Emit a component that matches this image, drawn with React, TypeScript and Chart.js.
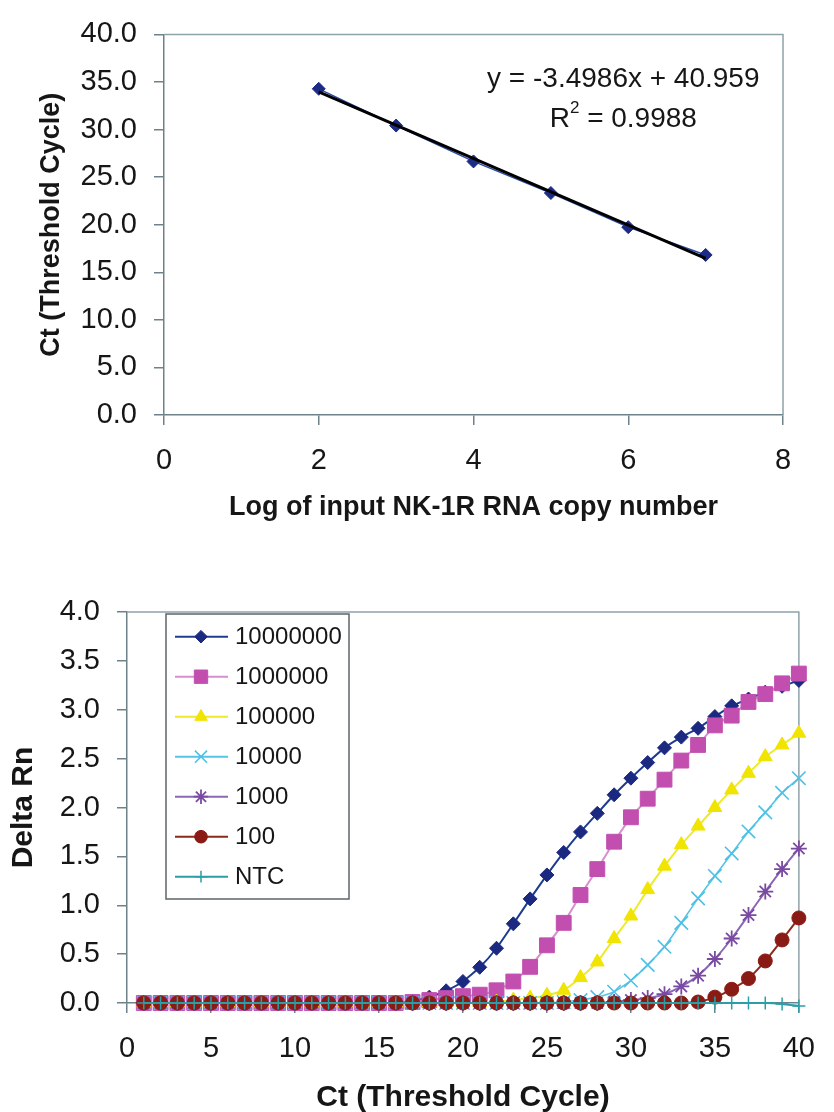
import React, { useEffect, useRef } from 'react';
import { Chart, registerables } from 'chart.js';

Chart.register(...registerables);

const FONT = '"Liberation Sans", Arial, Helvetica, sans-serif';
const TEXT = '#161616';
const AXIS = '#6f8189';
const FRAME = '#8ea2a9';

// ---------- Top chart: standard curve ----------
const logCopies = [2, 3, 4, 5, 6, 7];
const ctValues = [34.28, 30.42, 26.65, 23.33, 19.74, 16.82];
const trendSlope = -3.4986;
const trendIntercept = 40.959;
const rSquaredText = '0.9988';
const topXTicks = [0, 2, 4, 6, 8];
const topYTicks = [0, 5, 10, 15, 20, 25, 30, 35, 40];

// ---------- Bottom chart: amplification plot ----------
const cycles = [
  1, 2, 3, 4, 5, 6, 7, 8, 9, 10, 11, 12, 13, 14, 15, 16, 17, 18, 19, 20,
  21, 22, 23, 24, 25, 26, 27, 28, 29, 30, 31, 32, 33, 34, 35, 36, 37, 38, 39, 40,
];
const seriesLabels = ['10000000', '1000000', '100000', '10000', '1000', '100', 'NTC'];
const s10000000 = [
  0, 0, 0, 0, 0, 0, 0, 0, 0, 0, 0, 0, 0, 0, 0, 0,
  0.02, 0.06, 0.125, 0.22, 0.365, 0.56, 0.81, 1.065, 1.31, 1.54, 1.75, 1.94,
  2.13, 2.3, 2.46, 2.61, 2.72, 2.81, 2.93, 3.04, 3.11, 3.18, 3.24, 3.3,
];
const s1000000 = [
  0, 0, 0, 0, 0, 0, 0, 0, 0, 0, 0, 0, 0, 0, 0, 0,
  0.01, 0.03, 0.05, 0.07, 0.085, 0.13, 0.22, 0.37, 0.59, 0.82, 1.105, 1.37,
  1.65, 1.9, 2.09, 2.285, 2.48, 2.64, 2.84, 2.94, 3.08, 3.16, 3.27, 3.37,
];
const s100000 = [
  0, 0, 0, 0, 0, 0, 0, 0, 0, 0, 0, 0, 0, 0, 0, 0, 0, 0, 0, 0, 0,
  0.01, 0.03, 0.05, 0.08, 0.13, 0.26, 0.42, 0.66, 0.89, 1.16, 1.4, 1.62,
  1.81, 2.0, 2.18, 2.35, 2.52, 2.64, 2.76,
];
const s10000 = [
  0, 0, 0, 0, 0, 0, 0, 0, 0, 0, 0, 0, 0, 0, 0, 0, 0, 0, 0, 0, 0, 0, 0, 0, 0,
  0.01, 0.03, 0.06, 0.115, 0.23, 0.39, 0.575, 0.82, 1.07, 1.3, 1.53, 1.755,
  1.95, 2.15, 2.3,
];
const s1000 = [
  0, 0, 0, 0, 0, 0, 0, 0, 0, 0, 0, 0, 0, 0, 0, 0, 0, 0, 0, 0, 0, 0, 0, 0, 0, 0, 0, 0,
  0.01, 0.03, 0.05, 0.09, 0.17, 0.28, 0.45, 0.66, 0.9, 1.14, 1.37, 1.58,
];
const s100 = [
  0, 0, 0, 0, 0, 0, 0, 0, 0, 0, 0, 0, 0, 0, 0, 0, 0, 0, 0, 0, 0, 0, 0, 0, 0, 0, 0, 0, 0, 0, 0, 0, 0,
  0.01, 0.06, 0.14, 0.25, 0.43, 0.645, 0.87,
];
const sNTC = [
  0, 0, 0, 0, 0, 0, 0, 0, 0, 0, 0, 0, 0, 0, 0, 0, 0, 0, 0, 0,
  0, 0, 0, 0, 0, 0, 0, 0, 0, 0, 0, 0, 0, 0, 0, 0, 0, 0, -0.01, -0.03,
];
const seriesValues = [s10000000, s1000000, s100000, s10000, s1000, s100, sNTC];
const bottomXTicks = [0, 5, 10, 15, 20, 25, 30, 35, 40];
const bottomYTicks = [0, 0.5, 1, 1.5, 2, 2.5, 3, 3.5, 4];

type Style = {
  line: string;
  fill: string;
  stroke: string;
  point: string;
  radius: number;
  pointWidth: number;
  lineWidth: number;
};

const seriesStyles: Style[] = [
  { line: '#1d3c8f', fill: '#1b2a80', stroke: '#1b2a80', point: 'rectRot', radius: 7, pointWidth: 1, lineWidth: 2 },
  { line: '#d68fcc', fill: '#c24fb0', stroke: '#c24fb0', point: 'rect', radius: 10.5, pointWidth: 1, lineWidth: 2 },
  { line: '#eeea2a', fill: '#f0e400', stroke: '#f0e400', point: 'triangle', radius: 8, pointWidth: 1, lineWidth: 2 },
  { line: '#56c4e6', fill: '#56c4e6', stroke: '#4dc0e6', point: 'crossRot', radius: 9.5, pointWidth: 1.6, lineWidth: 1.6 },
  { line: '#8a68b6', fill: '#7a4aa2', stroke: '#7a4aa2', point: 'star', radius: 8, pointWidth: 1.8, lineWidth: 2 },
  { line: '#8a2a1c', fill: '#8a1a14', stroke: '#8a1a14', point: 'circle', radius: 7, pointWidth: 1, lineWidth: 2 },
  { line: '#2a9fa6', fill: '#2a9fa6', stroke: '#2a9fa6', point: 'cross', radius: 6.5, pointWidth: 1.5, lineWidth: 2 },
];

function drawMarker(ctx: CanvasRenderingContext2D, st: Style, x: number, y: number, scale: number) {
  const r = st.radius * scale;
  ctx.save();
  ctx.beginPath();
  ctx.fillStyle = st.fill;
  ctx.strokeStyle = st.stroke;
  ctx.lineWidth = st.pointWidth;
  const q = Math.SQRT1_2 * r;
  switch (st.point) {
    case 'rectRot':
      ctx.moveTo(x, y - r);
      ctx.lineTo(x + r, y);
      ctx.lineTo(x, y + r);
      ctx.lineTo(x - r, y);
      ctx.closePath();
      ctx.fill();
      ctx.stroke();
      break;
    case 'rect':
      ctx.rect(x - q, y - q, 2 * q, 2 * q);
      ctx.fill();
      ctx.stroke();
      break;
    case 'triangle': {
      let a = 0;
      ctx.moveTo(x + Math.sin(a) * r, y - Math.cos(a) * r);
      a += (2 * Math.PI) / 3;
      ctx.lineTo(x + Math.sin(a) * r, y - Math.cos(a) * r);
      a += (2 * Math.PI) / 3;
      ctx.lineTo(x + Math.sin(a) * r, y - Math.cos(a) * r);
      ctx.closePath();
      ctx.fill();
      ctx.stroke();
      break;
    }
    case 'circle':
      ctx.arc(x, y, r, 0, Math.PI * 2);
      ctx.fill();
      ctx.stroke();
      break;
    case 'crossRot':
      ctx.moveTo(x - q, y - q);
      ctx.lineTo(x + q, y + q);
      ctx.moveTo(x - q, y + q);
      ctx.lineTo(x + q, y - q);
      ctx.stroke();
      break;
    case 'star':
      ctx.moveTo(x - q, y - q);
      ctx.lineTo(x + q, y + q);
      ctx.moveTo(x - q, y + q);
      ctx.lineTo(x + q, y - q);
      ctx.moveTo(x - r, y);
      ctx.lineTo(x + r, y);
      ctx.moveTo(x, y - r);
      ctx.lineTo(x, y + r);
      ctx.stroke();
      break;
    case 'cross':
      ctx.moveTo(x - r, y);
      ctx.lineTo(x + r, y);
      ctx.moveTo(x, y - r);
      ctx.lineTo(x, y + r);
      ctx.stroke();
      break;
  }
  ctx.restore();
}

const framePlugin = {
  id: 'frame',
  beforeDatasetsDraw(chart: any) {
    const { ctx, chartArea: a } = chart;
    ctx.save();
    ctx.strokeStyle = FRAME;
    ctx.lineWidth = 1.5;
    ctx.beginPath();
    ctx.moveTo(a.left, a.top);
    ctx.lineTo(a.right, a.top);
    ctx.lineTo(a.right, a.bottom);
    ctx.stroke();
    ctx.restore();
  },
};

const equationPlugin = {
  id: 'equation',
  afterDraw(chart: any) {
    const { ctx, chartArea: a } = chart;
    const cx = a.left + (a.right - a.left) * 0.742;
    const y1 = a.top + (a.bottom - a.top) * 0.118;
    const y2 = a.top + (a.bottom - a.top) * 0.222;
    const sign = trendSlope < 0 ? '-' : '';
    const line1 = `y = ${sign}${Math.abs(trendSlope)}x + ${trendIntercept}`;
    ctx.save();
    ctx.fillStyle = TEXT;
    ctx.textBaseline = 'middle';
    ctx.font = `28px ${FONT}`;
    ctx.textAlign = 'center';
    ctx.fillText(line1, cx, y1);
    const rPart = 'R';
    const rest = ` = ${rSquaredText}`;
    const wR = ctx.measureText(rPart).width;
    const wRest = ctx.measureText(rest).width;
    ctx.font = `17px ${FONT}`;
    const wSup = ctx.measureText('2').width;
    const total = wR + wSup + wRest;
    let x = cx - total / 2;
    ctx.textAlign = 'left';
    ctx.font = `28px ${FONT}`;
    ctx.fillText(rPart, x, y2);
    x += wR;
    ctx.font = `17px ${FONT}`;
    ctx.fillText('2', x, y2 - 11);
    x += wSup;
    ctx.font = `28px ${FONT}`;
    ctx.fillText(rest, x, y2);
    ctx.restore();
  },
};

const legendPlugin = {
  id: 'boxLegend',
  afterDraw(chart: any) {
    const { ctx, chartArea: a } = chart;
    const left = a.left + 39;
    const top = a.top + 2;
    const width = 183;
    const rowH = 40;
    const height = 285;
    ctx.save();
    ctx.fillStyle = '#ffffff';
    ctx.fillRect(left, top, width, height);
    ctx.strokeStyle = '#5e6468';
    ctx.lineWidth = 1.5;
    ctx.strokeRect(left, top, width, height);
    ctx.font = `24px ${FONT}`;
    ctx.textBaseline = 'middle';
    ctx.textAlign = 'left';
    seriesLabels.forEach((label, i) => {
      const st = seriesStyles[i];
      const y = top + 22.7 + i * rowH;
      ctx.strokeStyle = st.line;
      ctx.lineWidth = 2;
      ctx.beginPath();
      ctx.moveTo(left + 9, y);
      ctx.lineTo(left + 62, y);
      ctx.stroke();
      drawMarker(ctx, st, left + 35, y, 0.9);
      ctx.fillStyle = TEXT;
      ctx.fillText(label, left + 69, y + 1);
    });
    ctx.restore();
  },
};

function axisCommon(size: number, pad: number) {
  return {
    grid: {
      display: true,
      drawOnChartArea: false,
      drawTicks: true,
      tickLength: 10,
      color: AXIS,
      lineWidth: 1.5,
    },
    border: { display: true, color: AXIS, width: 1.5 },
    ticks: {
      font: { family: FONT, size },
      color: TEXT,
      padding: pad,
      maxRotation: 0,
      autoSkip: false,
    },
  };
}

function TopChart() {
  const ref = useRef<HTMLCanvasElement | null>(null);
  useEffect(() => {
    if (!ref.current) return;
    const ctData = logCopies.map((x, i) => ({ x, y: ctValues[i] }));
    const trendX = [logCopies[0], logCopies[logCopies.length - 1]];
    const trendData = trendX.map((x) => ({ x, y: trendSlope * x + trendIntercept }));
    const xc = axisCommon(29, 19);
    const yc = axisCommon(29, 17);
    const chart = new Chart(ref.current, {
      type: 'line',
      data: {
        datasets: [
          {
            label: 'Linear trend',
            data: trendData,
            borderColor: '#000000',
            borderWidth: 3,
            pointRadius: 0,
            order: 0,
            clip: false,
          } as any,
          {
            label: 'Ct',
            data: ctData,
            borderColor: '#2b4aa8',
            borderWidth: 1.5,
            pointStyle: 'rectRot',
            pointRadius: 6.5,
            pointBackgroundColor: '#1c2c86',
            pointBorderColor: '#1c2c86',
            pointBorderWidth: 1,
            order: 1,
            clip: false,
          } as any,
        ],
      },
      options: {
        responsive: false,
        animation: false,
        events: [],
        layout: { padding: { left: 0, top: 26, right: 51, bottom: 0 } },
        plugins: { legend: { display: false }, tooltip: { enabled: false } },
        scales: {
          x: {
            type: 'linear',
            min: 0,
            max: 8,
            ...xc,
            afterBuildTicks: (s: any) => {
              s.ticks = topXTicks.map((v) => ({ value: v }));
            },
            ticks: { ...xc.ticks, callback: (v: any) => String(v) },
            title: {
              display: true,
              text: 'Log of input NK-1R RNA copy number',
              font: { family: FONT, size: 27, weight: 'bold' },
              color: TEXT,
              padding: { top: 0, bottom: 36 },
            },
            afterFit: (s: any) => {
              s.height = 145;
            },
          },
          y: {
            type: 'linear',
            min: 0,
            max: 40,
            ...yc,
            afterBuildTicks: (s: any) => {
              s.ticks = topYTicks.map((v) => ({ value: v }));
            },
            ticks: { ...yc.ticks, callback: (v: any) => Number(v).toFixed(1) },
            title: {
              display: true,
              text: 'Ct (Threshold Cycle)',
              font: { family: FONT, size: 27, weight: 'bold' },
              color: TEXT,
              padding: { top: 35, bottom: 0 },
            },
            afterFit: (s: any) => {
              s.width = 164;
            },
          },
        },
      } as any,
      plugins: [framePlugin, equationPlugin],
    });
    return () => chart.destroy();
  }, []);
  return (
    <canvas
      ref={ref}
      width={834}
      height={560}
      style={{ position: 'absolute', left: 0, top: 0, width: 834, height: 560 }}
    />
  );
}

function BottomChart() {
  const ref = useRef<HTMLCanvasElement | null>(null);
  useEffect(() => {
    if (!ref.current) return;
    const n = seriesLabels.length;
    const datasets = seriesLabels.map((label, i) => {
      const st = seriesStyles[i];
      return {
        label,
        data: cycles.map((c, j) => ({ x: c, y: seriesValues[i][j] })),
        borderColor: st.line,
        borderWidth: st.lineWidth,
        pointStyle: st.point,
        pointRadius: st.radius,
        pointBackgroundColor: st.fill,
        pointBorderColor: st.stroke,
        pointBorderWidth: st.pointWidth,
        tension: 0.15,
        order: n - 1 - i,
        clip: false,
      } as any;
    });
    const xc = axisCommon(29, 19);
    const yc = axisCommon(29, 17);
    const chart = new Chart(ref.current, {
      type: 'line',
      data: { datasets },
      options: {
        responsive: false,
        animation: false,
        events: [],
        layout: { padding: { left: 0, top: 52, right: 19, bottom: 0 } },
        plugins: { legend: { display: false }, tooltip: { enabled: false } },
        scales: {
          x: {
            type: 'linear',
            min: 0,
            max: 40,
            ...xc,
            afterBuildTicks: (s: any) => {
              s.ticks = bottomXTicks.map((v) => ({ value: v }));
            },
            ticks: { ...xc.ticks, callback: (v: any) => String(v) },
            title: {
              display: true,
              text: 'Ct (Threshold Cycle)',
              font: { family: FONT, size: 30, weight: 'bold' },
              color: TEXT,
              padding: { top: 0, bottom: 0 },
            },
            afterFit: (s: any) => {
              s.height = 113;
            },
          },
          y: {
            type: 'linear',
            min: 0,
            max: 4,
            ...yc,
            afterBuildTicks: (s: any) => {
              s.ticks = bottomYTicks.map((v) => ({ value: v }));
            },
            ticks: { ...yc.ticks, callback: (v: any) => Number(v).toFixed(1) },
            title: {
              display: true,
              text: 'Delta Rn',
              font: { family: FONT, size: 30, weight: 'bold' },
              color: TEXT,
              padding: { top: 6, bottom: 0 },
            },
            afterFit: (s: any) => {
              s.width = 127;
            },
          },
        },
      } as any,
      plugins: [framePlugin, legendPlugin],
    });
    return () => chart.destroy();
  }, []);
  return (
    <canvas
      ref={ref}
      width={834}
      height={556}
      style={{ position: 'absolute', left: 0, top: 560, width: 834, height: 556 }}
    />
  );
}

export default function App() {
  return (
    <div
      style={{
        position: 'absolute',
        left: 0,
        top: 0,
        width: 834,
        height: 1112,
        background: '#ffffff',
        overflow: 'hidden',
      }}
    >
      <TopChart />
      <BottomChart />
    </div>
  );
}
